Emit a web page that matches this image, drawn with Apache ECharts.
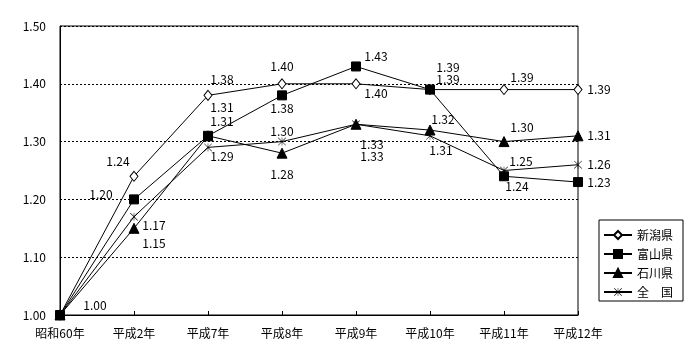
<!DOCTYPE html>
<html><head><meta charset="utf-8">
<script src="https://cdn.jsdelivr.net/npm/echarts@6/dist/echarts.min.js"></script>
<style>html,body{margin:0;padding:0;background:#fff}#c{width:700px;height:360px}</style>
</head><body><div id="c"></div>
<script>
const categories = ['昭和60年','平成2年','平成7年','平成8年','平成9年','平成10年','平成11年','平成12年'];
const niigata = [1.00, 1.24, 1.38, 1.40, 1.40, 1.39, 1.39, 1.39];
const toyama  = [1.00, 1.20, 1.31, 1.38, 1.43, 1.39, 1.24, 1.23];
const ishikawa= [1.00, 1.15, 1.31, 1.28, 1.33, 1.32, 1.30, 1.31];
const zenkoku = [1.00, 1.17, 1.29, 1.30, 1.33, 1.31, 1.25, 1.26];
const seriesNames = ['新潟県','富山県','石川県','全　国'];
const yTicks = [1.0, 1.5, 0.1];

// label offsets (style only): [dx, dy] from the point, null = no label
const offs = {
  niigata: [null,[-16,-15],[14,-16],[0,-17],[20,10],[18,-22],[18,-12],[21,0]],
  toyama:  [[35,-10],[-33,-5],[14,-28],[0,13],[20,-10],[18,-10],[13,10],[21,0]],
  ishikawa:[null,[20,15],[14,-14],[0,21],[16,20],[13,-11],[18,-14],[21,0]],
  zenkoku: [null,[20,9],[14,9],[0,-10],[16,32],[11,15],[17,-9],[21,0]]
};
const FONT = '"Noto Sans CJK JP", "DejaVu Sans", sans-serif';
function build(vals, o) {
  return vals.map((v, i) => ({
    value: v,
    label: o[i] ? {show: true, position: 'inside', offset: o[i], formatter: () => v.toFixed(2),
      color: '#000', fontSize: 12, fontFamily: FONT} : {show: false}
  }));
}
const asterisk = 'path://M4.7,0 L5.3,0 L5.3,10 L4.7,10 Z M0,0.5 L0.5,0 L10,9.5 L9.5,10 Z M9.5,0 L10,0.5 L0.5,10 L0,9.5 Z';
function ser(name, vals, o, symbol, size, fill, bw) {
  return {
    name, type: 'line', data: build(vals, o), symbol, symbolSize: size,
    lineStyle: {color: '#000', width: 1},
    itemStyle: {color: fill, borderColor: '#000', borderWidth: bw},
    emphasis: {disabled: true}, animation: false
  };
}
const chart = echarts.init(document.getElementById('c'), null, {renderer: 'canvas'});
chart.setOption({
  animation: false,
  textStyle: {fontFamily: FONT},
  grid: {left: 60, right: 122, top: 26, bottom: 45, show: true, borderColor: '#000', borderWidth: 1, backgroundColor: 'transparent'},
  legend: {
    orient: 'vertical', left: 599, top: 220, width: 84,
    borderColor: '#000', borderWidth: 1, padding: [9, 10, 3, 4], itemGap: 7,
    itemWidth: 28, itemHeight: 10,
    textStyle: {color: '#000', fontSize: 12, fontFamily: FONT},
    data: seriesNames
  },
  xAxis: {
    type: 'category', data: categories, boundaryGap: false,
    axisLine: {lineStyle: {color: '#000', width: 1}},
    axisTick: {inside: true, length: 4, lineStyle: {color: '#000'}},
    axisLabel: {color: '#000', fontSize: 12, margin: 12, fontFamily: FONT, interval: 0}
  },
  yAxis: {
    type: 'value', min: yTicks[0], max: yTicks[1], interval: yTicks[2],
    axisLine: {show: true, lineStyle: {color: '#000'}},
    axisTick: {show: false},
    axisLabel: {color: '#000', fontSize: 12, margin: 14, fontFamily: FONT, formatter: v => v.toFixed(2)},
    splitLine: {lineStyle: {color: '#000', type: [2, 2], width: 1}}
  },
  series: [
    ser(seriesNames[0], niigata, offs.niigata, 'diamond', [8, 10], '#fff', 1),
    ser(seriesNames[1], toyama, offs.toyama, 'rect', 9, '#000', 1),
    ser(seriesNames[2], ishikawa, offs.ishikawa, 'triangle', 10, '#000', 1),
    ser(seriesNames[3], zenkoku, offs.zenkoku, asterisk, 8, '#000', 0)
  ]
});
</script></body></html>
